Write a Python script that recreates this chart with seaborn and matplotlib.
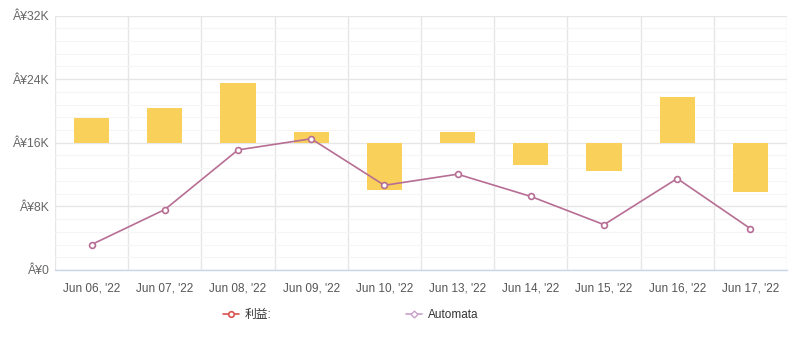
import numpy as np
import pandas as pd
import matplotlib
matplotlib.use("Agg")
import matplotlib.pyplot as plt
from matplotlib.lines import Line2D
import seaborn as sns

categories = ["Jun 06, '22", "Jun 07, '22", "Jun 08, '22", "Jun 09, '22", "Jun 10, '22",
              "Jun 13, '22", "Jun 14, '22", "Jun 15, '22", "Jun 16, '22", "Jun 17, '22"]
bar_base = 16000
bar_ends = [19100, 20350, 23500, 17350, 10050, 17300, 13200, 12500, 21700, 9850]
automata = [3200, 7600, 15100, 16500, 10650, 12050, 9250, 5700, 11500, 5200]
ytick_vals = [0, 8000, 16000, 24000, 32000]
ytick_labels = ["Â¥0", "Â¥8K", "Â¥16K", "Â¥24K", "Â¥32K"]
legend_labels = ["利益:", "Automata"]

sns.set_theme(style="white")
plt.rcParams["font.family"] = ["Liberation Sans", "Noto Sans CJK SC", "DejaVu Sans"]

fig = plt.figure(figsize=(7.94, 3.38), dpi=100)
ax = fig.add_axes([55/794, 68/338, (787-55)/794, (270-15.5)/338])

df = pd.DataFrame({"cat": categories,
                   "h": [e - bar_base for e in bar_ends]})
sns.barplot(data=df, x="cat", y="h", color="#f9d15a", width=0.48,
            bottom=bar_base, ax=ax, saturation=1, zorder=2)
for p in ax.patches:
    p.set_edgecolor("none")

line_color = "#b76e94"
sns.lineplot(x=np.arange(len(categories)), y=automata, ax=ax, color=line_color,
             linewidth=1.2, marker="o", markersize=4.2, markerfacecolor="white",
             markeredgecolor=line_color, markeredgewidth=1.2, zorder=3)

ax.set_xlim(-0.5, len(categories) - 0.5)
ax.set_ylim(0, 32000)
ax.set_yticks(ytick_vals)
ax.set_yticklabels(ytick_labels)
ax.set_yticks(np.arange(0, 32001, 1600), minor=True)
ax.set_xticks(np.arange(len(categories)))
ax.set_xticklabels(categories)
ax.set_xticks(np.arange(-0.5, len(categories), 1), minor=True)
ax.set_xlabel("")
ax.set_ylabel("")

ax.grid(False)
ax.yaxis.grid(True, which="major", color="#e6e6e6", linewidth=1, zorder=0)
ax.yaxis.grid(True, which="minor", color="#f5f5f5", linewidth=0.8, zorder=0)
ax.xaxis.grid(True, which="minor", color="#e6e6e6", linewidth=1, zorder=0)
ax.set_axisbelow(True)

for s in ["top", "right", "left"]:
    ax.spines[s].set_visible(False)
ax.spines["bottom"].set_color("#ccd6eb")
ax.spines["bottom"].set_linewidth(1)

ax.tick_params(axis="both", which="both", length=0)
ax.tick_params(axis="x", labelsize=8.5, colors="#555555", pad=9)
ax.tick_params(axis="y", labelsize=8.8, colors="#666666", pad=4)

handles = [
    Line2D([0], [0], color="#d9534f", lw=1.2, marker="o", markersize=4,
           markerfacecolor="white", markeredgecolor="#d9534f", markeredgewidth=1.2),
    Line2D([0], [0], color="#c9a0c9", lw=1.2, marker="D", markersize=3.5,
           markerfacecolor="white", markeredgecolor="#c9a0c9", markeredgewidth=1.0),
]
leg = fig.legend(handles, legend_labels, loc="center", bbox_to_anchor=(351/794, 1 - 315/338),
                 ncol=2, frameon=False, fontsize=8.5, columnspacing=11.4, handlelength=1.3,
                 handletextpad=0.55)
for t in leg.get_texts():
    t.set_color("#333333")

fig.savefig("out.png", dpi=100)
